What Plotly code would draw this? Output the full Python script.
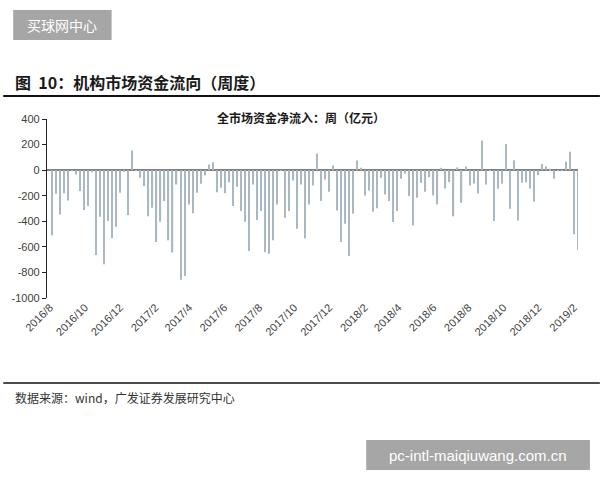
import pandas as pd
import plotly.graph_objects as go

# ---- data (weekly net inflow, 亿元) ----
start_date = "2016-08-05"
values = [
    -510, -185, -346, -180, -237, -5, -34, -164, -312, -281,
    -16, -663, -364, -736, -398, -533, -442, -177, -13, -351,
    153, -5, -60, -125, -361, -294, -562, -403, -242, -549,
    -645, -112, -858, -827, -268, -338, -177, -107, -39, 44,
    62, -172, -138, -180,
    -94, -281, -130, -320, -403, -632, -112, -390, -320, -640,
    -653, -549, -268, -5, -372, -320, -81, -458, -112, -533,
    -268, -120, 130, -242, -73, -169, 36, -315, -562, -419,
    -671, -341, 75, 18, -198, -159, -325, -299, -60, -190,
    -242, -406, -320, -68,
    -29, -203, -432, -216, -99, -169, -55, -198, -268, 18,
    -143, -94, -361, 21, -255, 29, -120, -104, -182, 231,
    -112, -5, -398, -146, -107, 205, -302, 78, -393, -99,
    -94, -143, -247, -39, 49, 31, 10, -68, -5, -5,
    65, 143, -502, -624,
]
dates = pd.date_range(start_date, periods=len(values), freq="7D")
y_ticks = [400, 200, 0, -200, -400, -600, -800, -1000]
y_tick_text = [str(v) for v in y_ticks]

fig_title = "图  10：机构市场资金流向（周度）"
chart_title = "全市场资金净流入：周（亿元）"
source_text = "数据来源：wind，广发证券发展研究中心"
wm_top = "买球网中心"
wm_bottom = "pc-intl-maiqiuwang.com.cn"

# ---- layout geometry (pixels) ----
W, H = 600, 480
L, R, T, B = 44, 578, 119, 298


def px(x):
    return (x - L) / (R - L)


def py(y):
    return (B - y) / (B - T)


CJK = "Noto Sans CJK SC"
LAT = "Liberation Sans, Arial"

fig = go.Figure()
fig.add_trace(go.Bar(
    x=dates, y=values,
    marker=dict(color="#aab8c3", line=dict(width=0)),
    width=7 * 24 * 3600 * 1000 * 0.3,
    hoverinfo="x+y",
))

fig.update_layout(
    width=W, height=H,
    margin=dict(l=L, r=W - R, t=T, b=H - B, pad=0),
    paper_bgcolor="white", plot_bgcolor="white",
    showlegend=False,
    xaxis=dict(
        type="date",
        range=["2016-07-27", "2019-02-08"],
        tick0="2016-08-01", dtick="M2",
        tickformat="%Y/%-m",
        tickangle=-45,
        tickfont=dict(family=LAT, size=11, color="#404040"),
        showgrid=False, showline=False, zeroline=False,
        ticks="",
        fixedrange=True,
    ),
    yaxis=dict(
        range=[-1000, 400],
        tickvals=y_ticks, ticktext=y_tick_text,
        tickfont=dict(family=LAT, size=11, color="#404040"),
        showgrid=False,
        showline=True, linecolor="#222222", linewidth=1.2,
        ticks="outside", ticklen=4, tickcolor="#222222",
        zeroline=True, zerolinecolor="#808080", zerolinewidth=1.5,
        fixedrange=True,
    ),
)

shapes = [
    dict(type="line", xref="paper", yref="paper",
         x0=px(0), x1=px(600), y0=py(96), y1=py(96),
         line=dict(color="#111111", width=2)),
    dict(type="line", xref="paper", yref="paper",
         x0=px(0), x1=px(600), y0=py(383), y1=py(383),
         line=dict(color="#111111", width=1.5)),
    dict(type="rect", xref="paper", yref="paper",
         x0=px(10), x1=px(109), y0=py(10), y1=py(40),
         fillcolor="#a6a6a6", line=dict(width=0)),
    dict(type="rect", xref="paper", yref="paper",
         x0=px(365), x1=px(590), y0=py(440), y1=py(470),
         fillcolor="#a6a6a6", line=dict(width=0)),
]
fig.update_layout(shapes=shapes)

ann = [
    dict(text=wm_top, x=px(59.5), y=py(25), xanchor="center", yanchor="middle",
         font=dict(family=CJK, size=14, color="white")),
    dict(text=wm_bottom, x=px(477.5), y=py(455), xanchor="center", yanchor="middle",
         font=dict(family=LAT, size=15, color="white")),
    dict(text="<b>" + fig_title + "</b>", x=px(10), y=py(82), xanchor="left", yanchor="middle",
         font=dict(family=CJK, size=16, color="#1a1a1a")),
    dict(text="<b>" + chart_title + "</b>", x=px(299), y=py(118), xanchor="center", yanchor="middle",
         font=dict(family=CJK, size=12, color="#1a1a1a")),
    dict(text=source_text, x=px(10), y=py(397), xanchor="left", yanchor="middle",
         font=dict(family=CJK, size=12, color="#333333")),
]
for a in ann:
    a.update(xref="paper", yref="paper", showarrow=False)
fig.update_layout(annotations=ann)

fig.write_html("out.html")
